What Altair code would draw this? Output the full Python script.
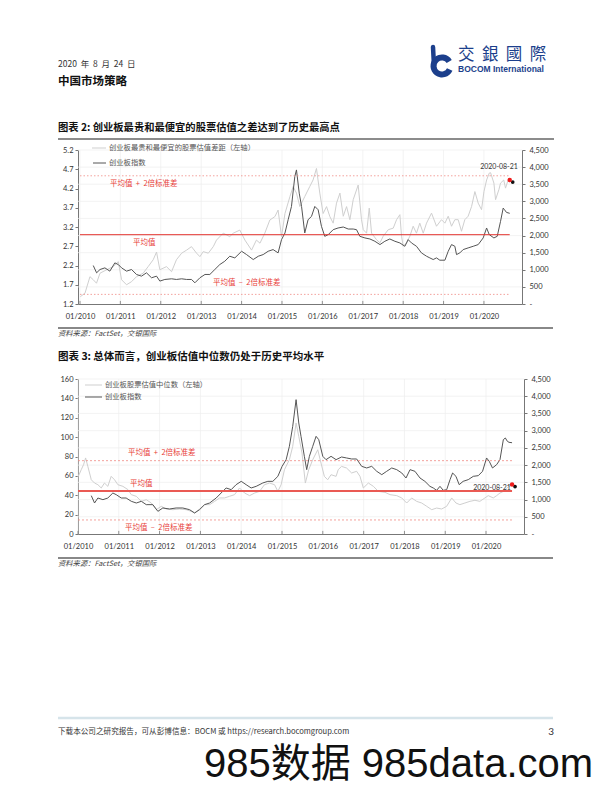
import altair as alt
import pandas as pd

CJK = "Noto Sans CJK SC"
LAT = "Lato"

# ---------------- Chart 2 data ----------------
g2_gap_dates = ["2010-01-04","2010-02-15","2010-04-01","2010-05-01","2010-05-30","2010-07-01","2010-08-30","2010-10-28","2010-12-13",
 "2011-01-12","2011-02-26","2011-04-12","2011-05-27","2011-07-26","2011-09-09","2011-10-25","2011-11-24","2011-12-24",
 "2012-02-22","2012-04-08","2012-05-22","2012-07-08","2012-08-22","2012-10-05","2012-11-20","2012-12-20",
 "2013-01-19","2013-03-06","2013-04-20","2013-05-19","2013-07-19","2013-09-16","2013-10-18","2013-12-16",
 "2014-01-31","2014-04-01","2014-05-15","2014-06-16","2014-07-30","2014-09-13","2014-10-29","2014-11-27","2014-12-28",
 "2015-01-28","2015-03-14","2015-04-12","2015-05-12","2015-06-12","2015-07-26","2015-09-09","2015-10-09","2015-11-09","2015-12-09",
 "2016-01-08","2016-02-08","2016-03-09","2016-04-08","2016-05-08","2016-06-08","2016-07-08","2016-08-07","2016-09-06","2016-10-06","2016-11-20","2016-12-20",
 "2017-01-05","2017-02-04","2017-02-28","2017-03-21","2017-05-05","2017-06-05","2017-07-04","2017-08-19","2017-10-03","2017-11-02","2017-12-02","2017-12-17",
 "2018-01-01","2018-01-31","2018-03-02","2018-04-01","2018-05-01","2018-05-31","2018-07-01","2018-07-31","2018-09-14","2018-10-29","2018-12-13",
 "2019-01-13","2019-02-12","2019-03-14","2019-04-13","2019-05-13","2019-06-12","2019-07-12","2019-08-11","2019-09-11","2019-10-11","2019-11-10","2019-12-10",
 "2020-01-01","2020-01-25","2020-02-18","2020-03-01","2020-03-31","2020-04-15","2020-05-15","2020-05-30","2020-06-28","2020-07-14","2020-08-12","2020-08-21"]
g2_gap_vals = [1.39,1.48,1.91,1.83,1.74,2.00,2.09,2.17,2.30,
 1.83,1.70,1.78,1.91,2.00,2.17,2.35,2.55,2.09,
 2.17,2.04,2.35,2.52,2.60,2.69,2.52,2.43,
 2.56,2.52,2.69,2.86,3.04,2.95,3.04,3.12,
 2.86,2.60,2.86,2.78,3.04,3.38,3.47,3.64,2.95,
 3.55,3.99,4.25,4.08,3.73,3.99,4.25,4.42,4.72,4.08,
 3.55,3.73,3.47,3.30,3.82,4.08,3.48,3.73,3.39,3.91,4.29,3.39,
 3.13,3.04,3.69,3.04,2.87,2.79,2.96,3.13,3.17,3.39,3.52,2.96,
 2.70,2.79,2.96,3.22,3.04,3.30,3.04,3.30,3.56,3.22,3.39,
 3.30,3.48,3.22,3.39,3.39,3.09,3.39,3.48,3.73,4.12,3.82,3.65,
 4.12,4.42,4.60,4.61,4.34,3.91,4.17,4.34,4.42,4.21,4.47,4.42]

g2_idx_dates = ["2010-05-01","2010-05-31","2010-07-01","2010-08-14","2010-09-28","2010-11-12","2010-12-13",
 "2011-01-12","2011-02-26","2011-04-12","2011-05-27","2011-07-11","2011-08-25","2011-10-10","2011-11-24","2011-12-24",
 "2012-02-07","2012-04-08","2012-05-22","2012-07-08","2012-08-22","2012-10-05","2012-11-05","2012-12-20",
 "2013-02-04","2013-03-20","2013-05-04","2013-06-18","2013-08-02","2013-09-16","2013-11-01",
 "2014-01-01","2014-02-15","2014-04-16","2014-06-01","2014-07-15","2014-08-29","2014-10-13","2014-11-27","2014-12-28",
 "2015-01-28","2015-02-26","2015-03-28","2015-04-27","2015-05-12","2015-06-06","2015-06-27","2015-07-26","2015-08-25","2015-09-25","2015-10-25","2015-11-24","2015-12-24",
 "2016-01-23","2016-02-23","2016-04-08","2016-05-22","2016-07-08","2016-08-22","2016-10-06","2016-11-05","2016-12-05",
 "2017-01-20","2017-03-06","2017-04-20","2017-06-05","2017-07-19","2017-09-02","2017-10-18","2017-12-02",
 "2018-01-16","2018-02-15","2018-03-17","2018-05-01","2018-06-15","2018-07-31","2018-08-30","2018-09-29","2018-10-29","2018-11-28",
 "2019-01-13","2019-02-12","2019-03-14","2019-04-13","2019-04-28","2019-05-28","2019-06-27","2019-08-11","2019-09-26","2019-11-10","2019-12-25",
 "2020-01-25","2020-02-18","2020-03-31","2020-04-30","2020-05-30","2020-06-23","2020-07-05","2020-07-23","2020-08-21"]
g2_idx_vals = [1124,911,1008,1056,960,1202,1153,
 1056,960,1008,863,814,911,766,814,669,
 717,736,717,736,717,717,620,766,
 863,863,1008,1153,1250,1396,1347,
 1541,1444,1299,1396,1444,1541,1590,1493,1881,
 2075,2463,2851,3724,3918,3239,2851,2075,2463,2560,2851,2754,2269,
 1978,2027,2172,2221,2250,2191,2191,2172,1978,
 1930,1900,1833,1736,1833,1900,1833,1784,
 1687,1881,1784,1687,1493,1396,1347,1299,1347,1280,
 1280,1541,1736,1687,1444,1493,1590,1639,1687,1736,1930,
 2221,2027,1930,1978,2415,2803,2754,2676,2650]

g2_ref_vals = [4.53, 3.0, 1.45]      # mean+2sd, mean, mean-2sd
g2_last_date, g2_last_val = "2020-08-21", 4.42

# ---------------- Chart 3 data ----------------
g3_pe_dates = ["2010-01-04","2010-01-30","2010-02-20","2010-03-10","2010-03-30","2010-04-30","2010-05-29","2010-06-28","2010-07-28","2010-08-26","2010-09-25","2010-10-25","2010-11-24","2010-12-24",
 "2011-02-07","2011-03-24","2011-04-23","2011-06-07","2011-07-22","2011-09-04","2011-10-19","2011-12-03",
 "2012-01-16","2012-03-01","2012-04-30","2012-06-28","2012-08-27","2012-10-11","2012-11-10","2012-12-24",
 "2013-02-07","2013-03-24","2013-05-08","2013-06-21","2013-08-05","2013-09-18","2013-11-02","2013-12-17",
 "2014-01-31","2014-03-17","2014-05-01","2014-06-14","2014-07-28","2014-09-11","2014-10-26","2014-11-25","2014-12-24",
 "2015-01-23","2015-03-08","2015-04-07","2015-05-07","2015-05-31","2015-06-29","2015-07-29","2015-08-28","2015-10-03","2015-11-17","2015-12-16",
 "2016-01-15","2016-02-14","2016-03-15","2016-04-29","2016-05-18","2016-06-17","2016-08-01","2016-09-15","2016-10-30","2016-11-29","2016-12-29",
 "2017-02-12","2017-03-29","2017-05-12","2017-07-11","2017-08-25","2017-10-24","2017-12-08",
 "2018-01-21","2018-03-07","2018-04-20","2018-06-04","2018-07-19","2018-09-02","2018-10-16","2018-11-30",
 "2019-01-14","2019-02-28","2019-04-07","2019-05-12","2019-06-26","2019-08-10","2019-09-24","2019-11-07","2019-12-22",
 "2020-01-21","2020-03-06","2020-04-05","2020-05-05","2020-06-04","2020-07-04","2020-08-21"]
g3_pe_vals = [59.5,66.4,71.6,78.5,69.8,56.0,52.6,50.9,47.5,52.6,49.2,59.5,56.0,50.9,
 49.2,45.8,40.6,38.9,33.7,35.4,32.0,25.1,
 28.6,25.8,25.1,25.8,25.1,23.4,21.7,25.8,
 30.3,30.3,33.7,37.2,37.2,38.9,40.6,47.5,
 42.3,39.6,42.3,44.0,50.9,52.6,50.9,44.0,50.9,
 66.4,76.7,90.5,114.6,100.8,83.6,52.6,66.4,76.7,87.0,73.3,
 59.5,56.0,61.2,59.5,66.4,69.8,68.1,63.0,64.7,59.5,47.5,
 52.6,49.2,44.0,43.0,40.6,39.6,37.2,
 32.0,37.2,33.7,32.0,28.6,25.1,26.8,25.8,
 28.6,37.2,32.0,30.3,32.0,33.7,34.8,33.7,37.2,
 39.6,37.2,39.6,42.3,44.0,47.5,51.0]

g3_idx_dates = ["2010-04-30","2010-05-29","2010-06-28","2010-08-12","2010-09-25","2010-11-09","2010-12-09",
 "2011-01-23","2011-03-08","2011-04-23","2011-06-07","2011-07-22","2011-09-04","2011-11-02","2011-12-17",
 "2012-01-30","2012-03-30","2012-05-28","2012-07-27","2012-09-25","2012-11-10","2012-12-24",
 "2013-02-07","2013-03-24","2013-05-22","2013-07-05","2013-08-19","2013-10-03","2013-11-16",
 "2014-01-01","2014-02-14","2014-03-31","2014-05-15","2014-07-13","2014-08-27","2014-10-11","2014-11-25",
 "2015-01-02","2015-02-07","2015-03-08","2015-04-07","2015-05-07","2015-05-31","2015-06-20","2015-07-20","2015-08-10","2015-09-03","2015-10-03","2015-11-02","2015-11-26",
 "2016-01-01","2016-01-30","2016-03-15","2016-04-29","2016-06-17","2016-08-01","2016-09-15","2016-10-30","2016-12-14",
 "2017-01-28","2017-03-14","2017-04-28","2017-06-12","2017-07-26","2017-09-09","2017-10-24","2017-12-08",
 "2018-01-15","2018-02-20","2018-04-05","2018-05-20","2018-07-03","2018-08-17","2018-09-16","2018-10-16","2018-11-15","2018-12-14",
 "2019-01-14","2019-02-13","2019-03-08","2019-04-07","2019-05-06","2019-06-10","2019-07-26","2019-09-09","2019-10-24","2019-12-01",
 "2020-01-06","2020-01-30","2020-02-28","2020-04-05","2020-05-05","2020-06-04","2020-06-22","2020-07-10","2020-07-25","2020-08-21"]
g3_idx_vals = [1113,900,1045,997,1045,1190,1142,
 1045,1045,949,900,949,852,852,658,
 755,726,755,755,707,610,707,
 852,900,1045,1190,1336,1287,1432,
 1529,1432,1336,1384,1481,1529,1529,1674,
 1965,2158,2545,3126,3900,3223,2836,2255,1868,2255,2545,2836,2739,
 2255,2158,2255,2158,2236,2207,2178,2178,1965,
 1917,1965,1820,1723,1820,1917,1868,1771,
 1626,1868,1820,1626,1529,1384,1336,1268,1384,1268,
 1287,1578,1771,1674,1432,1529,1578,1674,1694,1820,
 2207,2110,1917,2013,2158,2739,2788,2691,2662,2650]

g3_ref_vals = [75.7, 44.4, 14.5]
g3_last_date, g3_last_val = "2020-08-21", 51.0

# ---------------- axes ticks ----------------
years = list(range(2010, 2021))
left2_ticks = [1.2, 1.7, 2.2, 2.7, 3.2, 3.7, 4.2, 4.7, 5.2]
left3_ticks = [0, 20, 40, 60, 80, 100, 120, 140, 160]
right_ticks = [0, 500, 1000, 1500, 2000, 2500, 3000, 3500, 4000, 4500]

W, H = 596, 776
ONE = pd.DataFrame({"_": [0]})

GRAY = "#cfcfcf"
DARK = "#555555"
RED = "#e8403a"
BLUE = "#1c3f8c"
SP = " \u00a0"


def DT(s):
    y, m, d = [int(p) for p in s.split("-")]
    return alt.DateTime(year=y, month=m, date=d)


def build_panel(dom, xr, yr, ldom, lticks, lfmt, gap_d, gap_v, idx_d, idx_v, refs, last, mean_w, mean_col, dash):
    x0, x1 = xr
    ytop, ybot = yr
    xscale = alt.Scale(domain=[DT(dom[0]), DT(dom[1])], range=[x0, x1])
    lscale = alt.Scale(domain=ldom, range=[ybot, ytop])
    rscale = alt.Scale(domain=[0, 4500], range=[ybot, ytop])

    x_axis = alt.Axis(orient="bottom", offset=ybot - H,
                      values=[alt.DateTime(year=y, month=1, date=1) for y in years],
                      format="%m/%Y", labelFontSize=7.5, labelFont=LAT, labelColor="#333",
                      domainColor="#777", domainWidth=1, ticks=True, tickSize=0,
                      labelPadding=8, grid=False, labelAngle=0, labelOverlap=False,
                      labelFlush=False, title=None)
    l_axis = alt.Axis(orient="left", offset=-x0, values=lticks, format=lfmt,
                      labelFontSize=7.5, labelFont=LAT, labelColor="#333",
                      domainColor="#777", tickColor="#777", tickSize=3, labelPadding=2,
                      grid=False, labelFlush=False, labelOverlap=False, title=None)
    r_axis = alt.Axis(orient="right", offset=x1 - W, values=right_ticks,
                      labelExpr="datum.value == 0 ? '-' : format(datum.value, ',')",
                      labelFontSize=7.5, labelFont=LAT, labelColor="#333",
                      domainColor="#777", tickColor="#777", tickSize=3, labelPadding=4,
                      grid=False, labelFlush=False, labelOverlap=False, title=None)

    xn = alt.X("date:T", scale=xscale, axis=None, title=None)
    # --- grid group (right scale)
    ry = alt.Y("v:Q", scale=rscale, axis=None, title=None)
    vgrid = pd.DataFrame({"date": [f"{y}-01-01" for y in years], "v": [0] * len(years), "v2": [4500] * len(years)})
    hgrid = pd.DataFrame({"date": [dom[0]] * 9, "date2": [dom[1]] * 9, "v": right_ticks[1:]})
    xticks = pd.DataFrame({"date": [f"{y}-01-01" for y in years], "v": [0] * len(years), "v2": [90] * len(years)})
    grid = alt.layer(
        alt.Chart(vgrid).mark_rule(color="#eeeeee", strokeWidth=0.7).encode(x=xn, y=ry, y2="v2:Q"),
        alt.Chart(hgrid).mark_rule(color="#eeeeee", strokeWidth=0.7).encode(x=xn, x2="date2:T", y=ry),
        alt.Chart(xticks).mark_rule(color="#777", strokeWidth=0.8).encode(x=xn, y=ry, y2="v2:Q"),
    )
    # --- gray series on left axis (carries left + bottom axes)
    gray_df = pd.DataFrame({"date": gap_d, "v": gap_v})
    gray = alt.Chart(gray_df).mark_line(color=GRAY, strokeWidth=1).encode(
        x=alt.X("date:T", scale=xscale, axis=x_axis, title=None),
        y=alt.Y("v:Q", scale=lscale, axis=l_axis, title=None))
    # --- index on right axis
    idx_df = pd.DataFrame({"date": idx_d, "v": idx_v})
    dark = alt.Chart(idx_df).mark_line(color=DARK, strokeWidth=1).encode(
        x=xn, y=alt.Y("v:Q", scale=rscale, axis=r_axis, title=None))
    # --- reference lines + last point (left scale)
    ly = alt.Y("v:Q", scale=lscale, axis=None, title=None)
    ref_hi = pd.DataFrame({"date": ["2010-01-01"] * 2, "date2": [last[0]] * 2, "v": [refs[0], refs[2]]})
    ref_mid = pd.DataFrame({"date": ["2010-01-01"], "date2": [last[0]], "v": [refs[1]]})
    last_df = pd.DataFrame({"date": [last[0]], "v": [last[1]]})
    refl = alt.layer(
        alt.Chart(ref_hi).mark_rule(color="#f08a84", strokeWidth=0.8, strokeDash=dash).encode(x=xn, x2="date2:T", y=ly),
        alt.Chart(ref_mid).mark_rule(color=mean_col, strokeWidth=mean_w).encode(x=xn, x2="date2:T", y=ly),
        alt.Chart(last_df).mark_circle(color="#111111", size=14, opacity=1, xOffset=3, yOffset=2).encode(x=xn, y=ly),
        alt.Chart(last_df).mark_circle(color="#ee1c1c", size=20, opacity=1).encode(x=xn, y=ly),
    )
    return [grid, gray, dark, refl]


def txt(s, x, y, size=7.5, color="#333333", font=CJK, weight="normal", style="normal", align="left"):
    return alt.Chart(ONE).mark_text(text=s, align=align, baseline="middle", fontSize=size, font=font,
                                    color=color, fontWeight=weight, fontStyle=style).encode(
        x=alt.value(x), y=alt.value(y))


def hrule(x1, x2, y, color, w, dash=None):
    kw = dict(color=color, strokeWidth=w)
    if dash:
        kw["strokeDash"] = dash
    return alt.Chart(ONE).mark_rule(**kw).encode(x=alt.value(x1), x2=alt.value(x2), y=alt.value(y))


p2 = build_panel(("2009-12-14", "2020-12-10"), (70, 514), (142, 296), [1.2, 5.2], left2_ticks, ".1f",
                 g2_gap_dates, g2_gap_vals, g2_idx_dates, g2_idx_vals, g2_ref_vals,
                 (g2_last_date, g2_last_val), 1.0, "#e3342f", [1.5, 2])
p3 = build_panel(("2010-01-01", "2020-12-06"), (70, 516), (371, 526), [0, 160], left3_ticks, "d",
                 g3_pe_dates, g3_pe_vals, g3_idx_dates, g3_idx_vals, g3_ref_vals,
                 (g3_last_date, g3_last_val), 2.2, "#ea5a54", [2, 2])

deco = [
    # header
    txt("2020" + SP + "年" + SP + "8" + SP + "月" + SP + "24" + SP + "日", 50, 56, size=8.5),
    txt("中国市场策略", 50, 74, size=11.5, weight="bold", color="#111"),
    alt.Chart(ONE).mark_arc(color=BLUE, radius=11.5, radius2=5.5, theta=2.0, theta2=7.3).encode(
        x=alt.value(434), y=alt.value(58)),
    alt.Chart(ONE).mark_rule(color=BLUE, strokeWidth=4.5, strokeCap="round").encode(
        x=alt.value(425), x2=alt.value(426), y=alt.value(39), y2=alt.value(58)),
    txt("交" + SP + "銀" + SP + "國" + SP + "際", 450, 47, size=16.5, color=BLUE, font="Noto Sans CJK TC"),
    txt("BOCOM International", 450, 61, size=8.5, color=BLUE, font="Liberation Sans", weight="bold"),
    # chart 2 frame
    txt("图表 2: 创业板最贵和最便宜的股票估值之差达到了历史最高点", 50, 120, size=10.3, weight="bold", color="#111"),
    hrule(50, 546, 131, "#666666", 1.5),
    hrule(84, 98, 140, GRAY, 1),
    txt("创业板最贵和最便宜的股票估值差距（左轴）", 101, 140, size=7.3, color="#555"),
    hrule(85, 98, 155, DARK, 1),
    txt("创业板指数", 101, 155, size=7.3, color="#555"),
    txt("平均值" + SP + "+" + SP + "2倍标准差", 102, 176, size=7.5, color=RED),
    txt("平均值", 125, 235, size=7.5, color=RED),
    txt("平均值" + SP + "–" + SP + "2倍标准差", 205, 275, size=7.5, color=RED),
    txt("2020-08-21", 491, 159, size=7, color="#333", font=LAT, align="center"),
    hrule(50, 545, 320, "#888888", 2),
    txt("资料来源：FactSet，交银国际", 50, 326, size=7.3, style="italic", color="#444"),
    # chart 3 frame
    txt("图表 3: 总体而言，创业板估值中位数仍处于历史平均水平", 50, 349, size=10.5, weight="bold", color="#111"),
    hrule(77, 94, 377, GRAY, 1),
    txt("创业板股票估值中位数（左轴）", 97, 377, size=7.3, color="#555"),
    hrule(77, 94, 389, DARK, 1),
    txt("创业板指数", 97, 389, size=7.3, color="#555"),
    txt("平均值" + SP + "+" + SP + "2倍标准差", 120, 445, size=7.5, color=RED),
    txt("平均值", 122, 476, size=7.5, color=RED),
    txt("平均值" + SP + "–" + SP + "2倍标准差", 117, 520, size=7.5, color=RED),
    txt("2020-08-21", 484, 480, size=7, color="#333", font=LAT, align="center"),
    hrule(50, 545, 550, "#888888", 2),
    txt("资料来源：FactSet，交银国际", 50, 556, size=7.3, style="italic", color="#444"),
    # footer
    hrule(50, 545, 710, "#d6e4ea", 2.5),
    txt("下载本公司之研究报告，可从彭博信息：BOCM 或 https://research.bocomgroup.com", 50, 724, size=7.6, color="#333"),
    txt("3", 546, 724, size=10, color="#333", font=LAT, align="right"),
    txt("985数据 985data.com", 196, 757, size=40, color="#111", font="Liberation Sans, Noto Sans CJK SC"),
]

chart = alt.layer(*p2, *p3, *deco).resolve_scale(x="independent", y="independent").properties(
    width=W, height=H, autosize=alt.AutoSizeParams(type="none"), padding=0, background="white"
).configure_view(stroke=None)

chart.save("out.html", embed_options={"renderer": "svg", "actions": False})
